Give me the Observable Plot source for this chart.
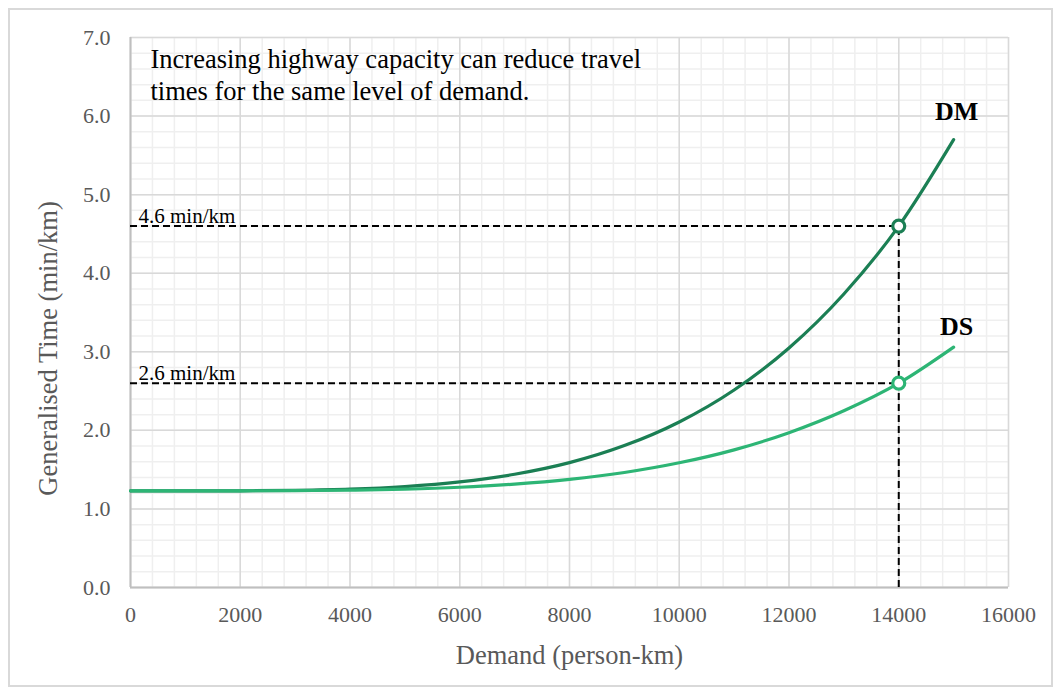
<!DOCTYPE html>
<html>
<head>
<meta charset="utf-8">
<script src="https://cdn.jsdelivr.net/npm/d3@7"></script>
<script src="https://cdn.jsdelivr.net/npm/@observablehq/plot@0.6"></script>
<style>
  html, body { margin: 0; padding: 0; background: #fff; }
  #wrap { position: relative; width: 1059px; height: 693px; }
  #border { position: absolute; left: 8px; top: 8px; width: 1041px; height: 675px; border: 2px solid #d9d9d9; pointer-events: none; }
  svg { display: block; }
</style>
</head>
<body>
<div id="wrap"><div id="border"></div></div>
<script>
// Data
const demand = [0, 1000, 2000, 3000, 4000, 5000, 6000, 7000, 8000, 9000, 10000, 11000, 12000, 13000, 14000, 15000];
const timeDM = [1.23, 1.23, 1.231, 1.237, 1.252, 1.285, 1.344, 1.441, 1.589, 1.806, 2.107, 2.514, 3.049, 3.736, 4.60, 5.70];
const timeDS = [1.23, 1.23, 1.231, 1.233, 1.239, 1.252, 1.276, 1.316, 1.376, 1.464, 1.587, 1.752, 1.970, 2.249, 2.60, 3.06];
const seriesNames = ["DM", "DS"];
const seriesColors = ["#1b7f54", "#2db575"];
const markerDemand = 14000;
const markerTimes = [4.6, 2.6];
const markerLabels = ["4.6 min/km", "2.6 min/km"];
const xTicks = [0, 2000, 4000, 6000, 8000, 10000, 12000, 14000, 16000];
const yTicks = [0, 1, 2, 3, 4, 5, 6, 7];
const annotation = "Increasing highway capacity can reduce travel\ntimes for the same level of demand.";

const rows = [];
demand.forEach((d, i) => {
  rows.push({series: "DM", x: d, y: timeDM[i]});
  rows.push({series: "DS", x: d, y: timeDS[i]});
});
const markers = seriesNames.map((s, i) => ({series: s, x: markerDemand, y: markerTimes[i], label: markerLabels[i]}));
const last = demand.length - 1;
const endDM = [{series: "DM", x: demand[last], y: timeDM[last]}];
const endDS = [{series: "DS", x: demand[last], y: timeDS[last]}];

const minorX = d3.range(0, 16001, 400);
const minorY = d3.range(0, 7.0001, 0.2);
const font = "'Liberation Serif', 'Times New Roman', serif";

const chart = Plot.plot({
  width: 1059,
  height: 693,
  marginLeft: 130,
  marginRight: 51,
  marginTop: 37,
  marginBottom: 106,
  style: {fontFamily: font, background: "transparent"},
  x: {domain: [0, 16000]},
  y: {domain: [0, 7]},
  color: {domain: seriesNames, range: seriesColors},
  marks: [
    Plot.gridX(minorX, {stroke: "#efefef", strokeOpacity: 1, strokeWidth: 1.5}),
    Plot.gridY(minorY, {stroke: "#efefef", strokeOpacity: 1, strokeWidth: 1.5}),
    Plot.gridX(xTicks, {stroke: "#d9d9d9", strokeOpacity: 1, strokeWidth: 1.5}),
    Plot.gridY(yTicks, {stroke: "#d9d9d9", strokeOpacity: 1, strokeWidth: 1.5}),
    Plot.ruleY([0], {stroke: "#bfbfbf", strokeWidth: 2}),
    Plot.ruleX([0], {stroke: "#bfbfbf", strokeWidth: 2}),
    Plot.axisX(xTicks, {tickSize: 0, tickPadding: 19, fontSize: 22, fill: "#595959", label: null, tickFormat: d => String(d)}),
    Plot.axisY(yTicks, {tickSize: 0, tickPadding: 20, fontSize: 22, fill: "#595959", label: null, tickFormat: d3.format(".1f")}),
    Plot.text(["Demand (person-km)"], {frameAnchor: "bottom", dy: 76, fontSize: 26.5, fill: "#595959"}),
    Plot.text(["Generalised Time (min/km)"], {frameAnchor: "left", textAnchor: "middle", rotate: -90, dx: -82, dy: 36, fontSize: 26.5, fill: "#595959"}),
    Plot.ruleY(markers, {x1: 0, x2: "x", y: "y", stroke: "black", strokeWidth: 2, strokeDasharray: "7,4"}),
    Plot.ruleX(markers.slice(0, 1), {x: "x", y1: 0, y2: "y", stroke: "black", strokeWidth: 2, strokeDasharray: "7,4"}),
    Plot.text(markers, {x: 0, y: "y", text: "label", textAnchor: "start", lineAnchor: "bottom", dx: 8, dy: -3, fontSize: 21, fill: "black"}),
    Plot.line(rows, {x: "x", y: "y", stroke: "series", strokeWidth: 3.2, curve: "monotone-x"}),
    Plot.dot(markers, {x: "x", y: "y", r: 6, fill: "white", stroke: "series", strokeWidth: 3.2}),
    Plot.text(endDM, {x: "x", y: "y", text: "series", dx: 3, dy: -28, fontSize: 26, fontWeight: "bold", fill: "black", lineAnchor: "middle"}),
    Plot.text(endDS, {x: "x", y: "y", text: "series", dx: 3, dy: -20, fontSize: 26, fontWeight: "bold", fill: "black", lineAnchor: "middle"}),
    Plot.text([annotation], {frameAnchor: "top-left", dx: 20, dy: 8, lineAnchor: "top", lineHeight: 1.2, fontSize: 26.5, fill: "black", textAnchor: "start"})
  ]
});
document.getElementById("wrap").prepend(chart);
</script>
</body>
</html>
